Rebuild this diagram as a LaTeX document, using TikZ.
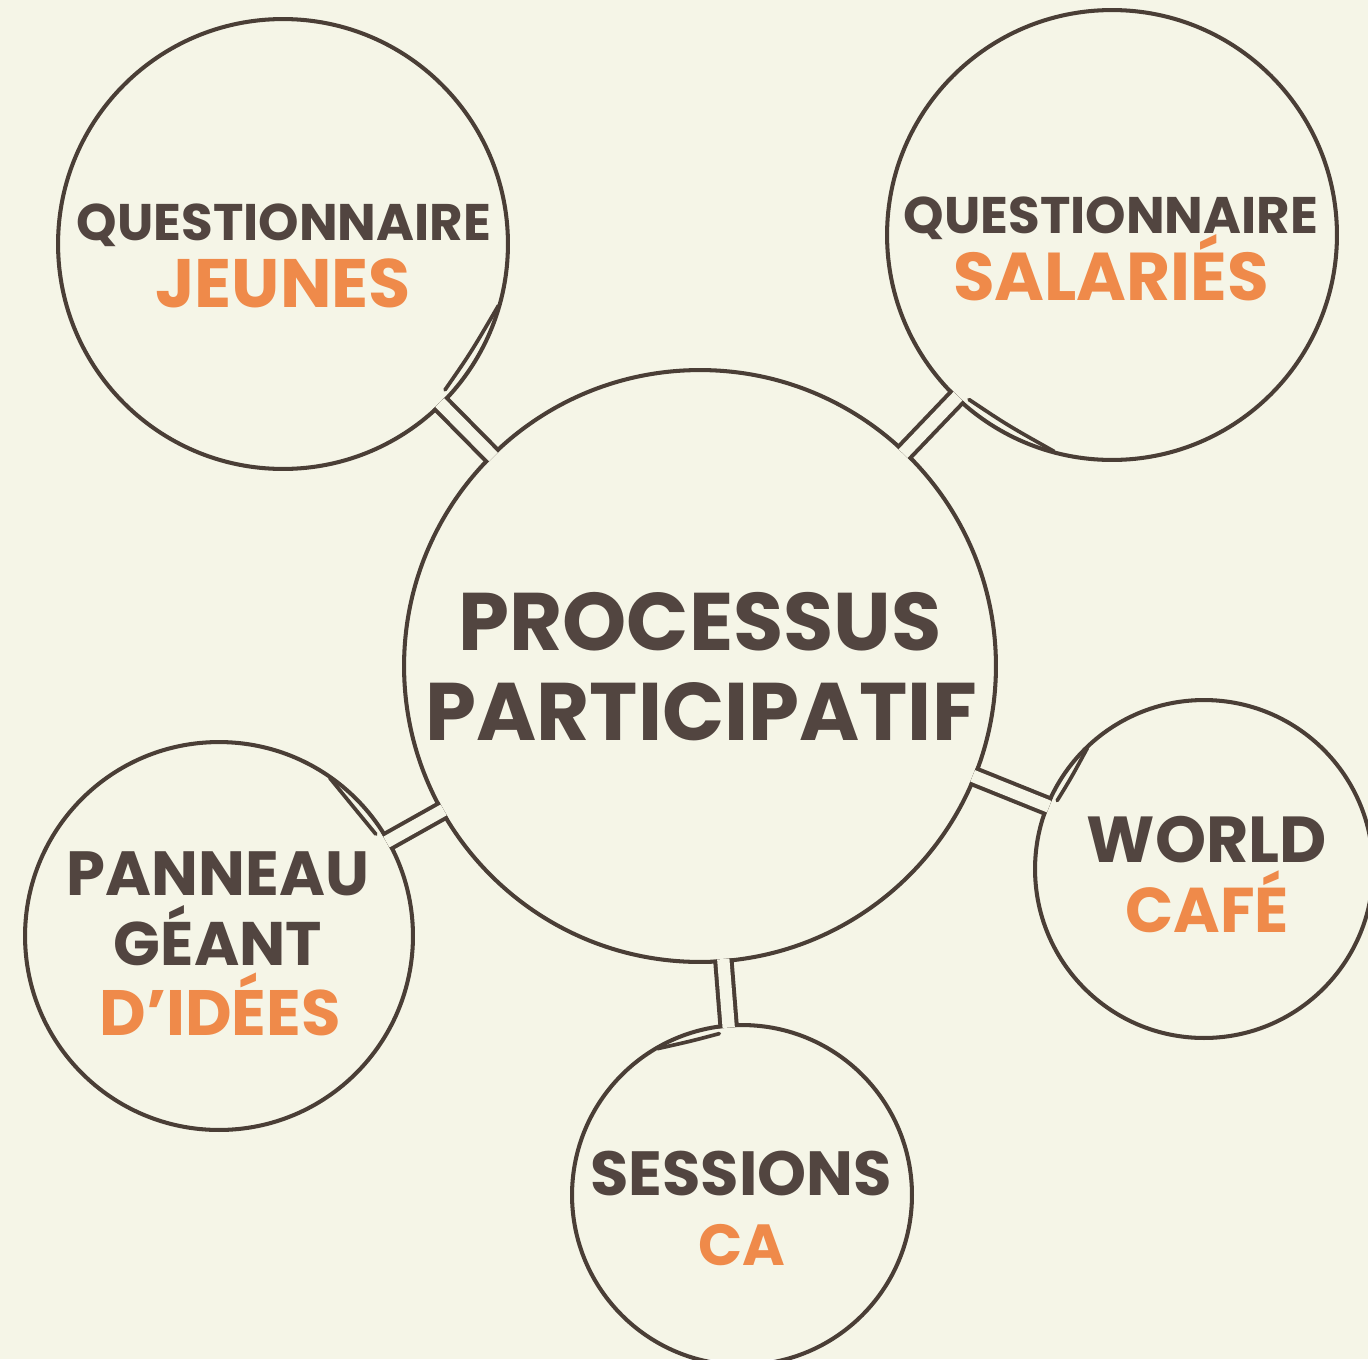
\documentclass[tikz,border=0pt]{standalone}
\usepackage{fontspec}
\setmainfont{Poppins}
\usetikzlibrary{positioning,calc}
\definecolor{bgcream}{HTML}{F5F5E7}
\definecolor{inkbrown}{HTML}{4A3E36}
\definecolor{textbrown}{HTML}{524540}
\definecolor{warmorange}{HTML}{EF8A4A}

\begin{document}
\begin{tikzpicture}
  [x=0.02cm, y=-0.02cm,
  bubble/.style={circle, draw=inkbrown, line width=2.3pt, inner sep=0pt},
  neck/.style={draw=inkbrown, line width=2.3pt, double=bgcream,
    double distance=7pt, shorten <=-2.3pt, shorten >=-2.3pt},
  curl/.style={draw=inkbrown, line width=2.1pt, line cap=round},
  word/.style={anchor=base, inner sep=0pt, font=\bfseries\fontsize{#1}{#1}\selectfont},
  dark/.style={word=#1, text=textbrown},
  accent/.style={word=#1, text=warmorange}]

  \fill[bgcream] (0,0) rectangle (1368,1359);
  \useasboundingbox (0,0) rectangle (1368,1359);

  % bubbles
  \node[bubble, minimum size=11.84cm] (process) at (700,666) {};
  \node[bubble, minimum size=9cm]     (jeunes)  at (283,244) {};
  \node[bubble, minimum size=9cm]     (salaries) at (1112,235) {};
  \node[bubble, minimum size=6.76cm]  (world)   at (1204,869) {};
  \node[bubble, minimum size=6.8cm]   (sessions) at (742,1195) {};
  \node[bubble, minimum size=7.76cm]  (panneau) at (219,936) {};

  % necks between the bubbles
  \draw[neck] (process) -- (jeunes);
  \draw[neck] (process) -- (salaries);
  \draw[neck] (process) -- (world);
  \draw[neck] (process) -- (sessions);
  \draw[neck] (process) -- (panneau);

  % little pen curls beside the necks
  \draw[curl] ($(jeunes)+(42:218)$) .. controls ($(jeunes)+(30:217)$) .. ($(jeunes)+(16:224)$);
  \draw[curl] ($(salaries)+(131:218)$) .. controls ($(salaries)+(119:217)$) .. ($(salaries)+(105:224)$);
  \draw[curl] ($(world)+(205:162)$) .. controls ($(world)+(214:161)$) .. ($(world)+(226:168)$);
  \draw[curl] ($(sessions)+(262:163)$) .. controls ($(sessions)+(252:162)$) .. ($(sessions)+(240:169)$);
  \draw[curl] ($(panneau)+(327:187)$) .. controls ($(panneau)+(318:186)$) .. ($(panneau)+(305:193)$);

  % texts
  \node[dark=46.5] (process-a) at (700,650) {PROCESSUS};
  \node[dark=46.5] (process-b) at (701,740) {PARTICIPATIF};

  \node[dark=29.3]   (jeunes-a) at (284,240) {QUESTIONNAIRE};
  \node[accent=39]   (jeunes-b) at (283,307) {JEUNES};

  \node[dark=29.3]   (salaries-a) at (1111,233) {QUESTIONNAIRE};
  \node[accent=38.5] (salaries-b) at (1111,300) {SALARIÉS};

  \node[dark=37]   (world-a) at (1207,862) {WORLD};
  \node[accent=36] (world-b) at (1207,932) {CAFÉ};

  \node[dark=35.5] (panneau-a) at (218,895) {PANNEAU};
  \node[dark=35]   (panneau-b) at (218,965) {GÉANT};
  \node[accent=36.5] (panneau-c) at (220,1035) {D’IDÉES};

  \node[dark=35.5] (sessions-a) at (741,1195) {SESSIONS};
  \node[accent=33] (sessions-b) at (742,1265) {CA};

\end{tikzpicture}
\end{document}
